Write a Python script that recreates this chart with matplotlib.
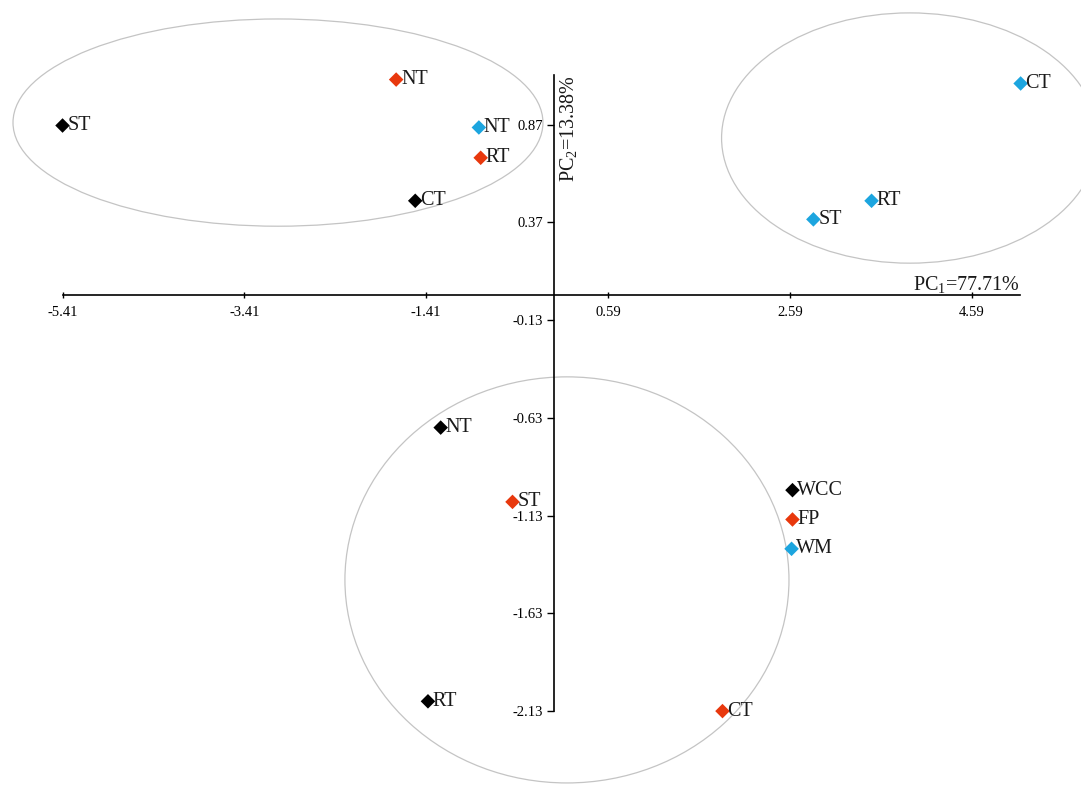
import matplotlib
matplotlib.use("Agg")
import matplotlib.pyplot as plt
from matplotlib.patches import Ellipse

plt.rcParams['font.family'] = ['Liberation Serif', 'DejaVu Serif']
plt.rcParams['mathtext.fontset'] = 'custom'
plt.rcParams['mathtext.rm'] = 'Liberation Serif'
plt.rcParams['mathtext.it'] = 'Liberation Serif:italic'

# ---- data ----
black_labels = ["ST", "CT", "NT", "RT", "WCC"]
black_x = [-5.41, -1.53, -1.25, -1.39, 2.62]
black_y = [0.865, 0.48, -0.68, -2.08, -1.00]

red_labels = ["NT", "RT", "ST", "CT", "FP"]
red_x = [-1.74, -0.81, -0.46, 1.85, 2.62]
red_y = [1.10, 0.70, -1.06, -2.13, -1.15]

blue_labels = ["NT", "ST", "RT", "CT", "WM"]
blue_x = [-0.83, 2.85, 3.49, 5.13, 2.61]
blue_y = [0.855, 0.385, 0.48, 1.08, -1.30]

x_ticks = [-5.41, -3.41, -1.41, 0.59, 2.59, 4.59]
y_ticks = [0.87, 0.37, -0.13, -0.63, -1.13, -1.63, -2.13]

# group ellipses: (center x, center y, width, height)
groups = [(-3.04, 0.880, 5.83, 1.06),
          (3.91, 0.801, 4.14, 1.28),
          (0.139, -1.459, 4.885, 2.077)]

pc1_label = "PC$_1$=77.71%"
pc2_label = "PC$_2$=13.38%"

black = "#000000"
red = "#E8380D"
blue = "#1CA5DF"

fig = plt.figure(figsize=(10.81, 7.85), dpi=100)
ax = fig.add_axes([0, 0, 1, 1])
ax.set_xlim(-6.098, 5.794)
ax.set_ylim(-2.508, 1.507)

for cx, cy, w, h in groups:
    ax.add_patch(Ellipse((cx, cy), w, h, fill=False, edgecolor="#C4C4C4",
                         linewidth=0.9, zorder=1))

for xs, ys, labs, col in [(black_x, black_y, black_labels, black),
                          (red_x, red_y, red_labels, red),
                          (blue_x, blue_y, blue_labels, blue)]:
    ax.scatter(xs, ys, marker="D", s=55, color=col, edgecolors="none", zorder=3)
    for x, y, t in zip(xs, ys, labs):
        ax.annotate(t, (x, y), xytext=(3.5, 0), textcoords="offset points",
                    ha="left", va="center", fontsize=14.5, color="#1a1a1a", zorder=4)

# axes through origin
for s in ["top", "right"]:
    ax.spines[s].set_visible(False)
ax.spines["bottom"].set_position(("data", 0))
ax.spines["left"].set_position(("data", 0))
ax.spines["bottom"].set_bounds(-5.41, 5.12)
ax.spines["left"].set_bounds(-2.13, 1.123)
ax.spines["bottom"].set_linewidth(1.2)
ax.spines["left"].set_linewidth(1.2)

ax.set_xticks(x_ticks)
ax.set_xticklabels([f"{v:.2f}" for v in x_ticks])
ax.set_yticks(y_ticks)
ax.set_yticklabels([f"{v:.2f}" for v in y_ticks])
ax.tick_params(axis="x", direction="inout", length=5, width=1, labelsize=10.5, pad=6)
ax.tick_params(axis="y", direction="out", length=5, width=1, labelsize=10.5, pad=3)

ax.text(5.12, 0.0, pc1_label, ha="right", va="bottom", fontsize=14.5,
        color="#1a1a1a", transform=ax.transData)
ax.annotate(pc2_label, (0, 1.123), xytext=(3, 0), textcoords="offset points",
            rotation=90, ha="left", va="top", fontsize=14.5, color="#1a1a1a")

fig.savefig("out.png", dpi=100)
